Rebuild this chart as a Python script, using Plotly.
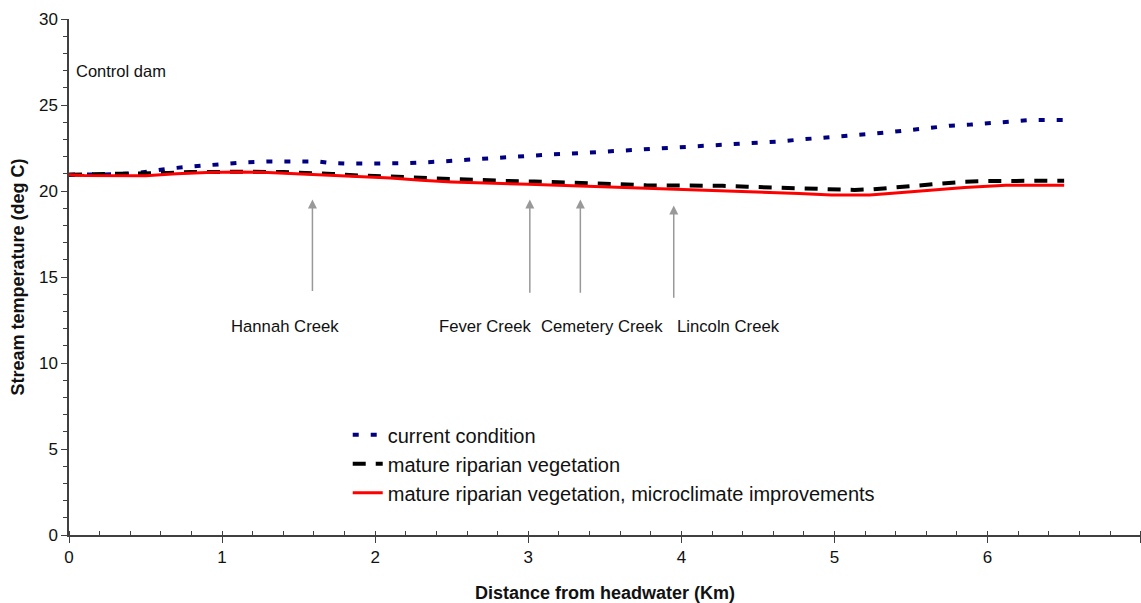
import plotly.graph_objects as go

# ---------------- data ----------------
x_current = [0, 0.3, 0.45, 0.55, 0.65, 0.77, 0.9, 1.03, 1.15, 1.3, 1.5, 1.62, 1.7, 1.8, 2.0, 2.2,
             2.4, 2.52, 2.64, 2.76, 2.89, 3.0, 3.14, 3.27, 3.39, 3.52, 3.64, 3.77, 3.89, 4.02,
             4.14, 4.27, 4.39, 4.51, 4.64, 4.76, 4.89, 5.0, 5.13, 5.27, 5.39, 5.5, 5.64, 5.76,
             5.89, 6.0, 6.14, 6.27, 6.5]
y_current = [20.95, 20.97, 21.05, 21.2, 21.3, 21.4, 21.5, 21.6, 21.67, 21.72, 21.73, 21.72, 21.63,
             21.6, 21.6, 21.62, 21.7, 21.77, 21.86, 21.94, 22.03, 22.05, 22.12, 22.17, 22.23,
             22.29, 22.34, 22.42, 22.5, 22.57, 22.6, 22.67, 22.73, 22.81, 22.88, 22.98, 23.06,
             23.15, 23.25, 23.35, 23.45, 23.55, 23.7, 23.8, 23.86, 23.95, 24.03, 24.12, 24.13]

x_mature = [0, 0.3, 0.5, 0.65, 0.8, 1.0, 1.2, 1.4, 1.55, 1.72, 1.9, 2.05, 2.22, 2.37, 2.52, 2.7,
            2.87, 3.04, 3.2, 3.38, 3.6, 3.77, 3.93, 4.1, 4.27, 4.43, 4.6, 4.76, 4.93, 5.13, 5.25,
            5.4, 5.57, 5.72, 5.85, 6.0, 6.2, 6.5]
y_mature = [20.95, 20.97, 21.0, 21.05, 21.1, 21.12, 21.12, 21.1, 21.07, 20.99, 20.9, 20.87, 20.8,
            20.74, 20.68, 20.62, 20.58, 20.55, 20.52, 20.47, 20.39, 20.33, 20.33, 20.33, 20.3,
            20.25, 20.2, 20.14, 20.08, 20.06, 20.1, 20.2, 20.33, 20.45, 20.54, 20.58, 20.6, 20.6]

x_micro = [0, 0.1, 0.5, 0.6, 0.7, 0.9, 1.1, 1.3, 1.5, 1.7, 1.9, 2.1, 2.3, 2.5, 3.0, 3.65, 4.3,
           4.77, 4.98, 5.23, 5.42, 5.64, 5.85, 6.12, 6.5]
y_micro = [20.95, 20.9, 20.88, 20.95, 21.0, 21.07, 21.1, 21.08, 21.0, 20.95, 20.87, 20.75, 20.62,
           20.53, 20.39, 20.2, 20.02, 19.86, 19.77, 19.77, 19.9, 20.06, 20.2, 20.33, 20.33]

series_names = ["current condition", "mature riparian vegetation",
                "mature riparian vegetation, microclimate improvements"]

creek_names = ["Hannah Creek", "Fever Creek", "Cemetery Creek", "Lincoln Creek"]
creek_x = [1.59, 3.01, 3.34, 3.95]
creek_tip_y = [19.5, 19.5, 19.5, 19.15]
creek_tail_y = [14.1, 14.0, 14.0, 13.7]
creek_label_x = [1.41, 2.72, 3.48, 4.31]
creek_label_y = [12.15, 12.15, 12.15, 12.15]

FONT = "Liberation Sans, Arial, sans-serif"
TXT = "#111111"

fig = go.Figure()
fig.add_trace(go.Scatter(x=x_current, y=y_current, mode="lines", name=series_names[0],
                         line=dict(color="#000080", width=4, dash="6px,12px")))
fig.add_trace(go.Scatter(x=x_mature, y=y_mature, mode="lines", name=series_names[1],
                         line=dict(color="#000000", width=4, dash="13px,10px")))
fig.add_trace(go.Scatter(x=x_micro, y=y_micro, mode="lines", name=series_names[2],
                         line=dict(color="#FF0000", width=3)))

for name, cx, ty, by, lx, ly in zip(creek_names, creek_x, creek_tip_y, creek_tail_y,
                                    creek_label_x, creek_label_y):
    fig.add_annotation(x=cx, y=ty, ax=cx, ay=by, axref="x", ayref="y", xref="x", yref="y",
                       text="", showarrow=True, arrowhead=2, arrowsize=1.2, arrowwidth=1.5,
                       arrowcolor="#999999")
    fig.add_annotation(x=lx, y=ly, xref="x", yref="y", text=name, showarrow=False,
                       font=dict(size=16.7, color=TXT, family=FONT))

fig.add_annotation(x=0.03, y=27.0, xref="x", yref="y", text="Control dam", showarrow=False,
                   xanchor="left", font=dict(size=16.5, color=TXT, family=FONT))

fig.update_layout(
    width=1141, height=603,
    margin=dict(l=69, r=0, t=19, b=68),
    paper_bgcolor="white", plot_bgcolor="white",
    font=dict(family=FONT, color=TXT),
    showlegend=True,
    legend=dict(x=0.26, y=0.232, xanchor="left", yanchor="top",
                font=dict(size=20, family=FONT, color=TXT),
                bgcolor="rgba(0,0,0,0)", tracegroupgap=0),
    xaxis=dict(range=[0, 7.002], tickmode="linear", tick0=0, dtick=1,
               showgrid=False, zeroline=False, showline=True, linecolor="#404040", linewidth=1.5,
               ticks="outside", ticklen=6, tickcolor="#404040",
               minor=dict(dtick=0.2, ticks="inside", ticklen=4, tickcolor="#404040"),
               tickfont=dict(size=17, family=FONT, color=TXT),
               title=dict(text="<b>Distance from headwater (Km)</b>", standoff=22,
                          font=dict(size=18, family=FONT, color=TXT))),
    yaxis=dict(range=[0, 30], tickmode="linear", tick0=0, dtick=5,
               showgrid=False, zeroline=False, showline=True, linecolor="#404040", linewidth=1.5,
               ticks="outside", ticklen=6, tickcolor="#404040",
               minor=dict(dtick=1, ticks="outside", ticklen=4, tickcolor="#404040"),
               tickfont=dict(size=17, family=FONT, color=TXT),
               title=dict(text="<b>Stream temperature (deg C)</b>", standoff=10,
                          font=dict(size=18, family=FONT, color=TXT))),
)

fig.write_html("out.html")
